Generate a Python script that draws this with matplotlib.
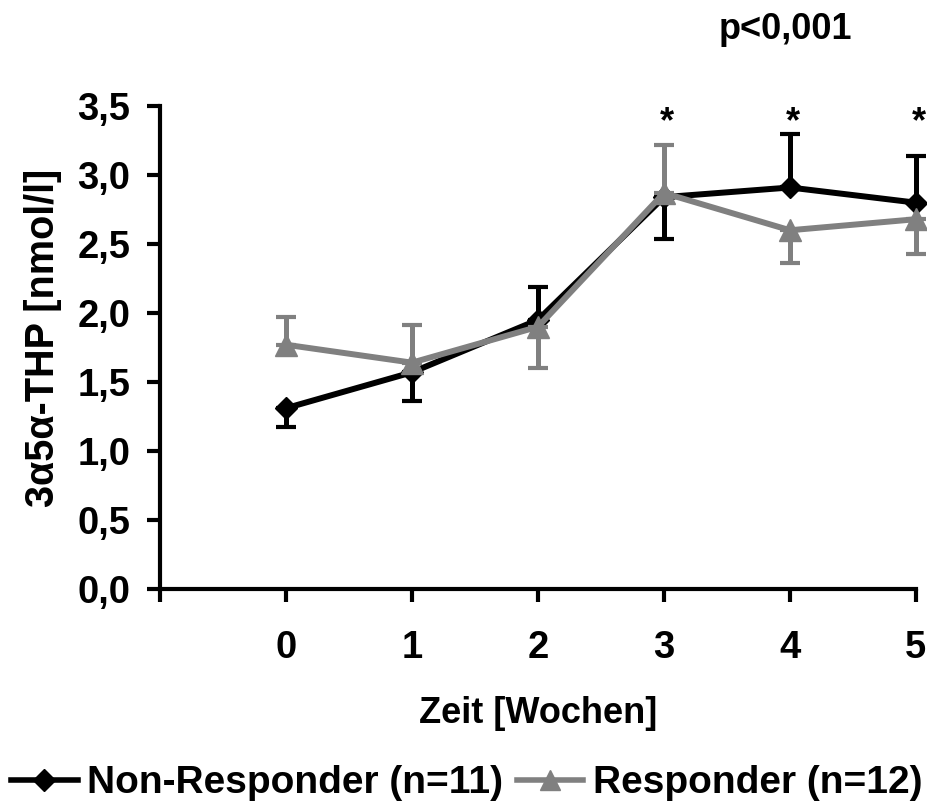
import matplotlib
matplotlib.use("Agg")
import matplotlib.pyplot as plt
from matplotlib.lines import Line2D

weeks = [0, 1, 2, 3, 4, 5]
non_resp = [1.31, 1.57, 1.95, 2.84, 2.91, 2.80]
non_resp_err_low = [0.14, 0.21, 0.0, 0.30, 0.0, 0.0]
non_resp_err_up = [0.0, 0.0, 0.24, 0.0, 0.39, 0.34]
resp = [1.77, 1.64, 1.90, 2.87, 2.60, 2.68]
resp_err_low = [0.0, 0.0, 0.30, 0.0, 0.24, 0.25]
resp_err_up = [0.20, 0.27, 0.0, 0.35, 0.0, 0.0]
xtick_pos = [-1, 0, 1, 2, 3, 4, 5]
xtick_labels = ["", "0", "1", "2", "3", "4", "5"]
ytick_pos = [0.0, 0.5, 1.0, 1.5, 2.0, 2.5, 3.0, 3.5]
ytick_labels = ["0,0", "0,5", "1,0", "1,5", "2,0", "2,5", "3,0", "3,5"]
sig_weeks = [3, 4, 5]

plt.rcParams['font.family'] = ['Liberation Sans', 'DejaVu Sans']
plt.rcParams['font.weight'] = 'bold'
FS = 26
TFS = 27.5

fig = plt.figure(figsize=(9.28, 8.10), dpi=100)
ax = fig.add_axes([0.1724, 0.273, 0.8146, 0.596])

ax.errorbar(weeks, non_resp, yerr=[non_resp_err_low, non_resp_err_up], color='black',
            lw=4.3, marker='D', ms=11, capsize=7, capthick=3, elinewidth=3.6, zorder=3,
            clip_on=False)
ax.errorbar(weeks, resp, yerr=[resp_err_low, resp_err_up], color='#808080',
            lw=4.3, marker='^', ms=16, capsize=7, capthick=3, elinewidth=3.6, zorder=4,
            clip_on=False)

for w in sig_weeks:
    ax.text(w + 0.02, 3.25, "*", ha='center', va='bottom', fontsize=FS, fontweight='bold',
            clip_on=False)

ax.set_xlim(-1, 5)
ax.set_ylim(0, 3.5)
ax.set_xticks(xtick_pos)
ax.set_xticklabels(xtick_labels, fontsize=TFS, fontweight='bold')
ax.set_yticks(ytick_pos)
ax.set_yticklabels(ytick_labels, fontsize=TFS, fontweight='bold')
ax.tick_params(axis='both', length=9.5, width=3, direction='out')
ax.tick_params(axis='x', pad=20)
ax.tick_params(axis='y', pad=12)
for s in ['top', 'right']:
    ax.spines[s].set_visible(False)
for s in ['left', 'bottom']:
    ax.spines[s].set_linewidth(3)

ax.set_xlabel("Zeit [Wochen]", fontsize=FS, fontweight='bold', labelpad=22)
ax.set_ylabel("3α5α-THP [nmol/l]", fontsize=28.5, fontweight='bold')
ax.yaxis.set_label_coords(-0.13, 0.52)

fig.text(0.846, 0.963, "p<0,001", ha='center', va='center', fontsize=FS, fontweight='bold')

handles = [Line2D([], [], color='black', lw=4.0, marker='D', ms=11),
           Line2D([], [], color='#808080', lw=4.0, marker='^', ms=15)]
fig.legend(handles, ["Non-Responder (n=11)", "Responder (n=12)"], loc='center',
           bbox_to_anchor=(0.503, 0.033), ncol=2, frameon=False,
           prop={'weight': 'bold', 'size': 28}, handlelength=1.7, handletextpad=0.25,
           columnspacing=0.35, borderaxespad=0)

fig.savefig("out.png", dpi=100)
